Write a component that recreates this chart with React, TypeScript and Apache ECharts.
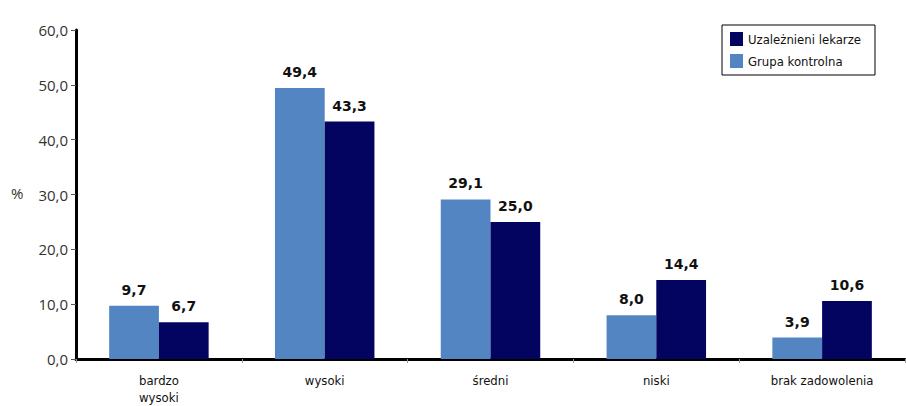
import React, { useEffect, useRef } from "react";
import * as echarts from "echarts";

const categories = ["bardzo\nwysoki", "wysoki", "średni", "niski", "brak zadowolenia"];
const controlGroup = [9.7, 49.4, 29.1, 8.0, 3.9];
const addictedDoctors = [6.7, 43.3, 25.0, 14.4, 10.6];
const seriesNames = ["Uzależnieni lekarze", "Grupa kontrolna"];

const fmt = (v: number) => v.toFixed(1).replace(".", ",");
const narrow = "'Liberation Sans Narrow', 'DejaVu Sans Condensed', 'Arial Narrow', sans-serif";

export default function App() {
  const ref = useRef<HTMLDivElement>(null);
  useEffect(() => {
    if (!ref.current) return;
    const chart = echarts.init(ref.current, undefined, { renderer: "svg" });
    const valueLabel = {
      show: true,
      position: "top" as const,
      distance: 9,
      color: "#111",
      fontWeight: "bold" as const,
      fontSize: 14,
      fontFamily: "'DejaVu Sans', sans-serif",
      formatter: (p: any) => fmt(p.value),
    };
    chart.setOption({
      animation: false,
      backgroundColor: "#ffffff",
      grid: { left: 76, right: 1, top: 30, bottom: 43 },
      legend: {
        orient: "vertical",
        left: 722,
        top: 25,
        padding: [7, 14, 7, 8],
        itemGap: 8,
        itemWidth: 13,
        itemHeight: 14,
        icon: "rect",
        borderColor: "#000",
        borderWidth: 1,
        backgroundColor: "#fff",
        data: seriesNames,
        textStyle: { color: "#111", fontSize: 13, fontFamily: narrow },
      },
      graphic: [
        {
          type: "text",
          left: 11,
          top: 185,
          style: { text: "%", fontSize: 15, fill: "#333", fontFamily: "'Open Sans', sans-serif" },
        },
      ],
      xAxis: {
        type: "category",
        data: categories,
        axisLine: { lineStyle: { color: "#000", width: 3 } },
        axisTick: { show: true, length: 4, lineStyle: { color: "#999" } },
        axisLabel: {
          color: "#111",
          fontSize: 13,
          fontFamily: narrow,
          margin: 13,
          lineHeight: 17,
        },
      },
      yAxis: {
        type: "value",
        min: 0,
        max: 60,
        interval: 10,
        axisLine: { show: true, lineStyle: { color: "#000", width: 3 } },
        axisTick: { show: true, length: 5, lineStyle: { color: "#555" } },
        splitLine: { show: false },
        axisLabel: {
          color: "#333",
          fontSize: 15,
          fontFamily: "'Open Sans', sans-serif",
          margin: 8,
          formatter: (v: number) => fmt(v),
        },
      },
      series: [
        {
          name: seriesNames[1],
          type: "bar",
          data: controlGroup,
          itemStyle: { color: "#5485C3" },
          barGap: "0%",
          barCategoryGap: "40%",
          label: valueLabel,
        },
        {
          name: seriesNames[0],
          type: "bar",
          data: addictedDoctors,
          itemStyle: { color: "#03045F" },
          barGap: "0%",
          barCategoryGap: "40%",
          label: valueLabel,
        },
      ],
    });
    return () => chart.dispose();
  }, []);
  return <div ref={ref} style={{ width: 906, height: 406, position: "absolute", left: 0, top: 0 }} />;
}
